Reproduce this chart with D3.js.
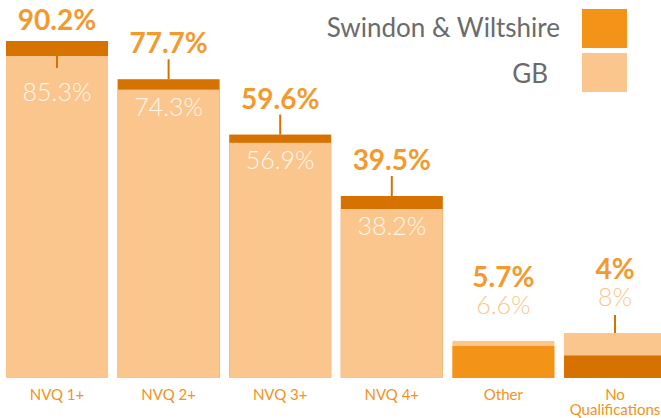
<!DOCTYPE html>
<html>
<head>
<meta charset="utf-8">
<script src="https://cdn.jsdelivr.net/npm/d3@7"></script>
<style>
  body { margin: 0; background: #fff; }
  svg { display: block; font-family: Lato, "Open Sans", sans-serif; }
</style>
</head>
<body>
<div id="wrapper"></div>
<script>
const categories = ["NVQ 1+", "NVQ 2+", "NVQ 3+", "NVQ 4+", "Other", "No Qualifications"]
const swindonValues = [90.2, 77.7, 59.6, 39.5, 5.7, 4]
const gbValues = [85.3, 74.3, 56.9, 38.2, 6.6, 8]
const seriesNames = ["Swindon & Wiltshire", "GB"]
// the original graphic is not drawn to a single linear scale, so use a piecewise one
const scaleStops = [0, 8, 38.2, 39.5, 90.2]

const noLine = new Set(["Other"])

const colors = {
    swindon: "#f39318",
    swindonBand: "#d67200",
    gb: "#fbc68d",
    label: "#f39a2e",
    gbLabel: "#fff6ec",
    legendText: "#6b6b6b",
}

const dimensions = {width: 661, height: 418, baseline: 378}

const dataset = categories.map((c, i) => ({category: c, sw: swindonValues[i], gb: gbValues[i]}))

const svg = d3.select("#wrapper")
    .append("svg")
    .attr("width", dimensions.width)
    .attr("height", dimensions.height)

const xScale = d3.scaleBand()
    .domain(categories)
    .range([6, 666])
    .paddingInner(0.086)
    .paddingOuter(0)

const yScale = d3.scaleLinear()
    .domain(scaleStops)
    .range([dimensions.baseline, 333, 209, 196, 41])

const bars = svg.append("g")
    .selectAll("g")
    .data(dataset)
    .join("g")

bars.each(function (d) {
    const g = d3.select(this)
    const x = xScale(d.category)
    const w = xScale.bandwidth()
    const swColor = d.category === "Other" ? colors.swindon : colors.swindonBand
    const layers = [
        {v: d.sw, fill: swColor},
        {v: d.gb, fill: colors.gb},
    ].sort((a, b) => b.v - a.v)
    layers.forEach(l => {
        g.append("rect")
            .attr("x", x)
            .attr("width", w)
            .attr("y", yScale(l.v))
            .attr("height", dimensions.baseline - yScale(l.v))
            .attr("fill", l.fill)
    })

    const cx = x + w / 2
    const top = yScale(Math.max(d.sw, d.gb))
    let swBase, gbBase, lineY
    if (d.sw > d.gb) {
        swBase = top - 26
        gbBase = yScale(d.gb) + 26
        lineY = [top - 20, top]
        if (swBase < 30) {
            swBase = 30
            gbBase = yScale(d.gb) + 45
            lineY = [top + 7, top + 27]
        }
    } else {
        gbBase = top - 27
        swBase = gbBase - 27
        lineY = [top - 18, top]
    }

    if (!noLine.has(d.category)) {
        g.append("line")
            .attr("x1", cx).attr("x2", cx)
            .attr("y1", lineY[0]).attr("y2", lineY[1])
            .attr("stroke", colors.swindonBand)
            .attr("stroke-width", 2)
    }

    g.append("text")
        .attr("x", cx)
        .attr("y", swBase)
        .attr("text-anchor", "middle")
        .attr("font-size", 28)
        .attr("font-weight", 700)
        .attr("fill", colors.label)
        .text(d.sw + "%")

    g.append("text")
        .attr("x", cx)
        .attr("y", gbBase)
        .attr("text-anchor", "middle")
        .attr("font-size", 25)
        .attr("font-weight", 300)
        .attr("fill", d.sw > d.gb ? colors.gbLabel : colors.gb)
        .text(d.gb + "%")
})

// category axis
const xAxis = svg.append("g")
    .attr("transform", `translate(0, ${dimensions.baseline})`)
    .call(d3.axisBottom(xScale).tickSize(0).tickPadding(0))
xAxis.select(".domain").remove()
xAxis.selectAll(".tick text").remove()
xAxis.selectAll(".tick").each(function (d) {
    const words = d === "No Qualifications" ? ["No", "Qualifications"] : [d]
    const t = d3.select(this).append("text")
        .attr("text-anchor", "middle")
        .attr("font-size", 15)
        .attr("fill", colors.swindon)
        .attr("font-family", "Lato, sans-serif")
    words.forEach((wd, i) => {
        t.append("tspan").attr("x", 0).attr("y", 22 + i * 15).text(wd)
    })
})

// legend
const legend = svg.append("g")
const legendColors = [colors.swindon, colors.gb]
seriesNames.forEach((name, i) => {
    legend.append("rect")
        .attr("x", 582)
        .attr("y", 9 + i * 44)
        .attr("width", 45)
        .attr("height", 39)
        .attr("fill", legendColors[i])
    legend.append("text")
        .attr("x", i === 0 ? 560 : 548)
        .attr("y", 37 + i * 46)
        .attr("text-anchor", "end")
        .attr("font-size", 26)
        .attr("fill", colors.legendText)
        .text(name)
})
</script>
</body>
</html>
